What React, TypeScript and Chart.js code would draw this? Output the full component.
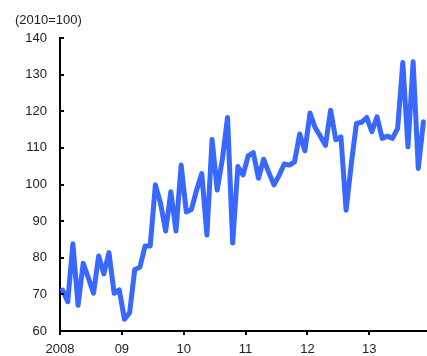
import React, { useEffect, useRef } from "react";
import { Chart, registerables } from "chart.js";

Chart.register(...registerables);

// Monthly index (2010=100), Jan 2008 – Nov 2013
const values: number[] = [
  71.2, 68, 83.8, 67, 78.5, 74.5, 70.3, 80.5, 75.6, 81.4, 70.3, 71.2,
  63.2, 65, 76.8, 77.4, 83.2, 83.2, 99.9, 94.9, 87.3, 98, 87.3, 105.3,
  92.5, 93.2, 98.5, 103, 86.2, 112.3, 98.5, 107, 118.3, 84, 104.9, 102.6,
  107.8, 108.7, 101.7, 106.9, 103.3, 99.9, 102.5, 105.6, 105.3, 106.2, 113.8, 109.2,
  119.5, 115.5, 113.2, 110.7, 120.3, 112.2, 113, 93, 105.5, 116.7, 117, 118.3,
  114.4, 118.5, 112.6, 113.2, 112.6, 115.3, 133.3, 110.3, 133.5, 104.4, 117.1,
];
const yearLabels: string[] = ["2008", "09", "10", "11", "12", "13"];
const yTicks: number[] = [60, 70, 80, 90, 100, 110, 120, 130, 140];
const unitLabel = "(2010=100)";

const FONT = "'Liberation Sans', Arial, sans-serif";

export default function App() {
  const ref = useRef<HTMLCanvasElement | null>(null);

  useEffect(() => {
    if (!ref.current) return;
    const points = values.map((v, i) => ({ x: i + 0.5, y: v }));

    const tickPlugin = {
      id: "customTicks",
      afterDraw(chart: any) {
        const ctx = chart.ctx;
        const xs = chart.scales.x;
        const ys = chart.scales.y;
        ctx.save();
        ctx.strokeStyle = "#000";
        ctx.lineWidth = 2;
        ctx.beginPath();
        yTicks.forEach((v) => {
          const y = Math.round(ys.getPixelForValue(v));
          ctx.moveTo(xs.left, y);
          ctx.lineTo(xs.left + 4, y);
        });
        yearLabels.forEach((_, k) => {
          const x = Math.round(xs.getPixelForValue(k * 12));
          ctx.moveTo(x, ys.bottom);
          ctx.lineTo(x, ys.bottom + 4);
        });
        ctx.stroke();
        ctx.fillStyle = "#222";
        ctx.font = "13px " + FONT;
        ctx.textBaseline = "middle";
        ctx.textAlign = "left";
        ctx.fillText(unitLabel, 15, 20);
        ctx.restore();
      },
    };

    const chart = new Chart(ref.current, {
      type: "line",
      data: {
        datasets: [
          {
            data: points,
            borderColor: "#3868ff",
            borderWidth: 5,
            pointRadius: 0,
            tension: 0,
            borderJoinStyle: "round",
            borderCapStyle: "round",
            clip: false,
          },
        ],
      },
      options: {
        animation: false,
        responsive: false,
        maintainAspectRatio: false,
        layout: { padding: { top: 38, right: 1, left: 0, bottom: 0 } },
        plugins: { legend: { display: false }, tooltip: { enabled: false } },
        scales: {
          x: {
            type: "linear",
            min: 0,
            max: 71,
            afterBuildTicks: (scale: any) => {
              scale.ticks = yearLabels.map((_, k) => ({ value: k * 12 }));
            },
            afterFit: (scale: any) => {
              scale.height = 25;
            },
            ticks: {
              autoSkip: false,
              maxRotation: 0,
              padding: 11,
              color: "#222",
              font: { family: FONT, size: 13 },
              callback: (v: any) => yearLabels[Math.round(Number(v) / 12)] ?? "",
            },
            grid: { display: false, drawTicks: false },
            border: { display: true, color: "#000", width: 2 },
          },
          y: {
            min: 60,
            max: 140,
            afterBuildTicks: (scale: any) => {
              scale.ticks = yTicks.map((v) => ({ value: v }));
            },
            afterFit: (scale: any) => {
              scale.width = 60;
            },
            ticks: {
              padding: 13,
              color: "#222",
              font: { family: FONT, size: 13 },
            },
            grid: { display: false, drawTicks: false },
            border: { display: true, color: "#000", width: 2 },
          },
        },
      },
      plugins: [tickPlugin],
    } as any);

    return () => chart.destroy();
  }, []);

  return (
    <div style={{ position: "fixed", left: 0, top: 0, width: 427, height: 356, background: "#fff" }}>
      <canvas ref={ref} width={427} height={356} style={{ display: "block", width: 427, height: 356 }} />
    </div>
  );
}
